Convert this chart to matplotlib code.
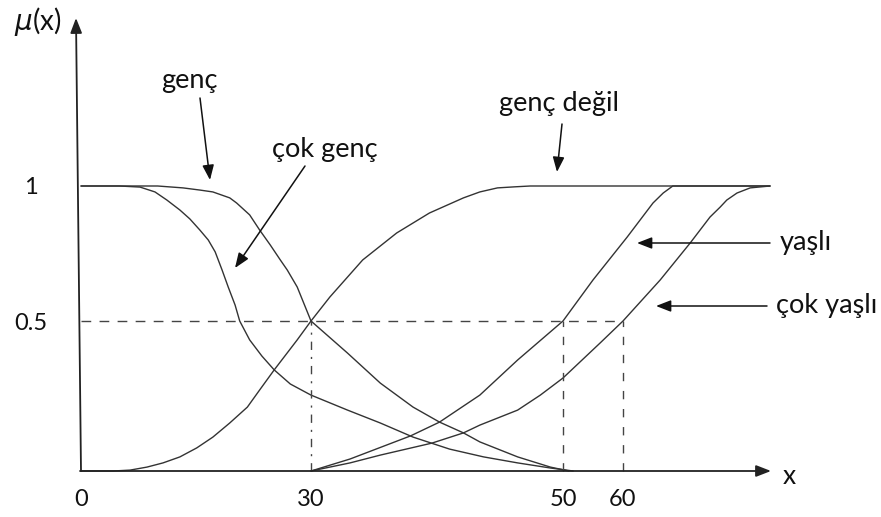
import numpy as np
import matplotlib
matplotlib.use("Agg")
import matplotlib.pyplot as plt

plt.rcParams['font.family'] = ['Lato', 'DejaVu Sans']

# Membership curves: age x and membership degree mu(x)
genc_x = [0, 5, 10, 13.3, 15.5, 17.2, 19.4, 20.3, 22.0, 23.3, 24.7, 26.0, 26.9,
          28.2, 30, 32.9, 35.5, 38.1, 40.2, 42.1, 43.4, 46.4, 49.0, 51.0]
genc_mu = [1, 1, 1, 0.993, 0.985, 0.978, 0.956, 0.937, 0.893, 0.837, 0.781,
           0.726, 0.689, 0.626, 0.5, 0.393, 0.293, 0.213, 0.163, 0.127, 0.097,
           0.047, 0.013, 0]

cok_genc_x = [0, 5, 7.7, 9.65, 11.2, 12.9, 14.2, 15.5, 16.6, 17.5, 18.4, 19.2,
              20.1, 20.7, 22.0, 23.6, 25.2, 27.3, 30, 32.9, 35.5, 38.1, 41.0,
              43.7, 46.4, 49.0, 51.7]
cok_genc_mu = [1, 1, 0.996, 0.978, 0.948, 0.911, 0.878, 0.837, 0.8, 0.756,
               0.689, 0.626, 0.559, 0.5, 0.437, 0.383, 0.337, 0.29, 0.253,
               0.203, 0.16, 0.113, 0.073, 0.047, 0.027, 0.01, 0]

genc_degil_x = [0, 4.2, 6.4, 8.6, 10.7, 12.9, 15.1, 17.2, 19.4, 21.7, 23.3,
                25.2, 28.2, 30, 31.5, 34.1, 36.8, 39.4, 42.1, 43.4, 44.8, 46.2,
                47.4, 51.2, 67.8, 84.5]
genc_degil_mu = [0, 0, 0.003, 0.013, 0.027, 0.047, 0.077, 0.113, 0.16, 0.213,
                 0.27, 0.337, 0.437, 0.5, 0.589, 0.726, 0.826, 0.9, 0.956,
                 0.978, 0.993, 0.997, 1, 1, 1, 1]

yasli_x = [30, 33.1, 37.9, 40.2, 43.4, 46.4, 50, 55, 60.7, 65, 66.7, 68.3, 84.5]
yasli_mu = [0, 0.04, 0.117, 0.163, 0.253, 0.37, 0.5, 0.652, 0.811, 0.937,
            0.974, 1, 1]

cok_yasli_x = [30, 33.1, 35.5, 39.6, 42.1, 43.4, 46.4, 48.2, 50, 56.2, 60,
               66.2, 71.2, 74.5, 76.2, 77.3, 79, 81.2, 84.5]
cok_yasli_mu = [0, 0.027, 0.053, 0.093, 0.127, 0.153, 0.203, 0.253, 0.31,
                0.427, 0.5, 0.652, 0.789, 0.885, 0.922, 0.948, 0.974, 0.993, 1]

half_mu = 0.5
crossover_x = [30, 50, 60]

x_ticks = [0, 30, 50, 60]
x_tick_labels = ['0', '30', '50', '60']
y_ticks = [0.5, 1]
y_tick_labels = ['0.5', '1']

# Sketch-style, non-uniform axis scales (piecewise linear)
x_knots = [-20, 0, 30, 50, 110]
x_pos = [-153.3, 0, 230, 482, 842]
y_knots = [-1, 0, 0.5, 2]
y_pos = [-300, 0, 150, 555]


def fwd_x(v):
    return np.interp(v, x_knots, x_pos)


def inv_x(p):
    return np.interp(p, x_pos, x_knots)


def fwd_y(v):
    return np.interp(v, y_knots, y_pos)


def inv_y(p):
    return np.interp(p, y_pos, y_knots)


W, H = 881, 517
fig = plt.figure(figsize=(W / 100, H / 100), dpi=100)
ax = fig.add_axes([0, 0, 1, 1])
ax.set_xscale('function', functions=(fwd_x, inv_x))
ax.set_yscale('function', functions=(fwd_y, inv_y))
ax.set_xlim(inv_x(-81), inv_x(W - 81))
ax.set_ylim(inv_y(471 - H), inv_y(471))

curve_kw = dict(color='#333333', lw=1.0, solid_capstyle='round',
                solid_joinstyle='round')
for xs, ys in [(genc_x, genc_mu), (cok_genc_x, cok_genc_mu),
               (genc_degil_x, genc_degil_mu), (yasli_x, yasli_mu),
               (cok_yasli_x, cok_yasli_mu)]:
    ax.plot(xs, ys, **curve_kw)

# crossover guides
ax.plot([0, crossover_x[-1]], [half_mu, half_mu], color='#444444', lw=1.0,
        linestyle=(0, (7, 6)))
ax.plot([crossover_x[0]] * 2, [0, half_mu], color='#444444', lw=1.0,
        linestyle=(0, (6, 5, 1.5, 5)))
for cx in crossover_x[1:]:
    ax.plot([cx, cx], [0, half_mu], color='#444444', lw=1.0,
            linestyle=(0, (6, 7)))

# ticks
for side in ['top', 'right', 'bottom', 'left']:
    ax.spines[side].set_visible(False)
ax.spines['bottom'].set_position(('data', 0))
ax.spines['left'].set_position(('data', 0))
ax.set_xticks(x_ticks, x_tick_labels)
ax.set_yticks(y_ticks, y_tick_labels)
ax.tick_params(axis='x', length=0, pad=13, labelsize=17, colors='#111111')
ax.tick_params(axis='y', length=0, pad=36, labelsize=17, colors='#111111')
for lab in ax.get_yticklabels():
    lab.set_horizontalalignment('center')
ax.minorticks_off()


def P(x, y):
    return (x, H - y)


# axis arrows
axis_arrow = dict(arrowstyle='-|>,head_length=0.9,head_width=0.35',
                  color='#222222', lw=1.3, shrinkA=0, shrinkB=0,
                  mutation_scale=10)
ax.annotate('', xy=P(771, 471), xytext=P(80, 471), xycoords='figure pixels',
            textcoords='figure pixels', arrowprops=axis_arrow)
ax.annotate('', xy=P(76, 18), xytext=P(81, 471), xycoords='figure pixels',
            textcoords='figure pixels', arrowprops=axis_arrow)

fig.text(38, H - 22, r'$\mu$(x)', fontsize=20, ha='center', va='center',
         color='#111111', transform=None)
fig.text(789, H - 476, 'x', fontsize=19, ha='center', va='center',
         color='#111111', transform=None)

# curve labels and pointers
label_arrow = dict(arrowstyle='-|>,head_length=0.9,head_width=0.35',
                   color='#111111', lw=1.1, shrinkA=0, shrinkB=0,
                   mutation_scale=10)
labels = [
    ('genç', (161, 88), (200, 98), (210, 180)),
    ('çok genç', (272, 157), (305, 166), (235, 268)),
    ('genç değil', (499, 111), (562, 124), (557, 172)),
    ('yaşlı', (780, 250), (770, 243), (637, 243)),
    ('çok yaşlı', (776, 313), (767, 306), (656, 306)),
]
for text, tpos, tail, tip in labels:
    fig.text(tpos[0], H - tpos[1], text, fontsize=19.5, ha='left',
             va='baseline', color='#111111', transform=None)
    ax.annotate('', xy=P(*tip), xytext=P(*tail), xycoords='figure pixels',
                textcoords='figure pixels', arrowprops=label_arrow)

fig.savefig('out.png', dpi=100)
